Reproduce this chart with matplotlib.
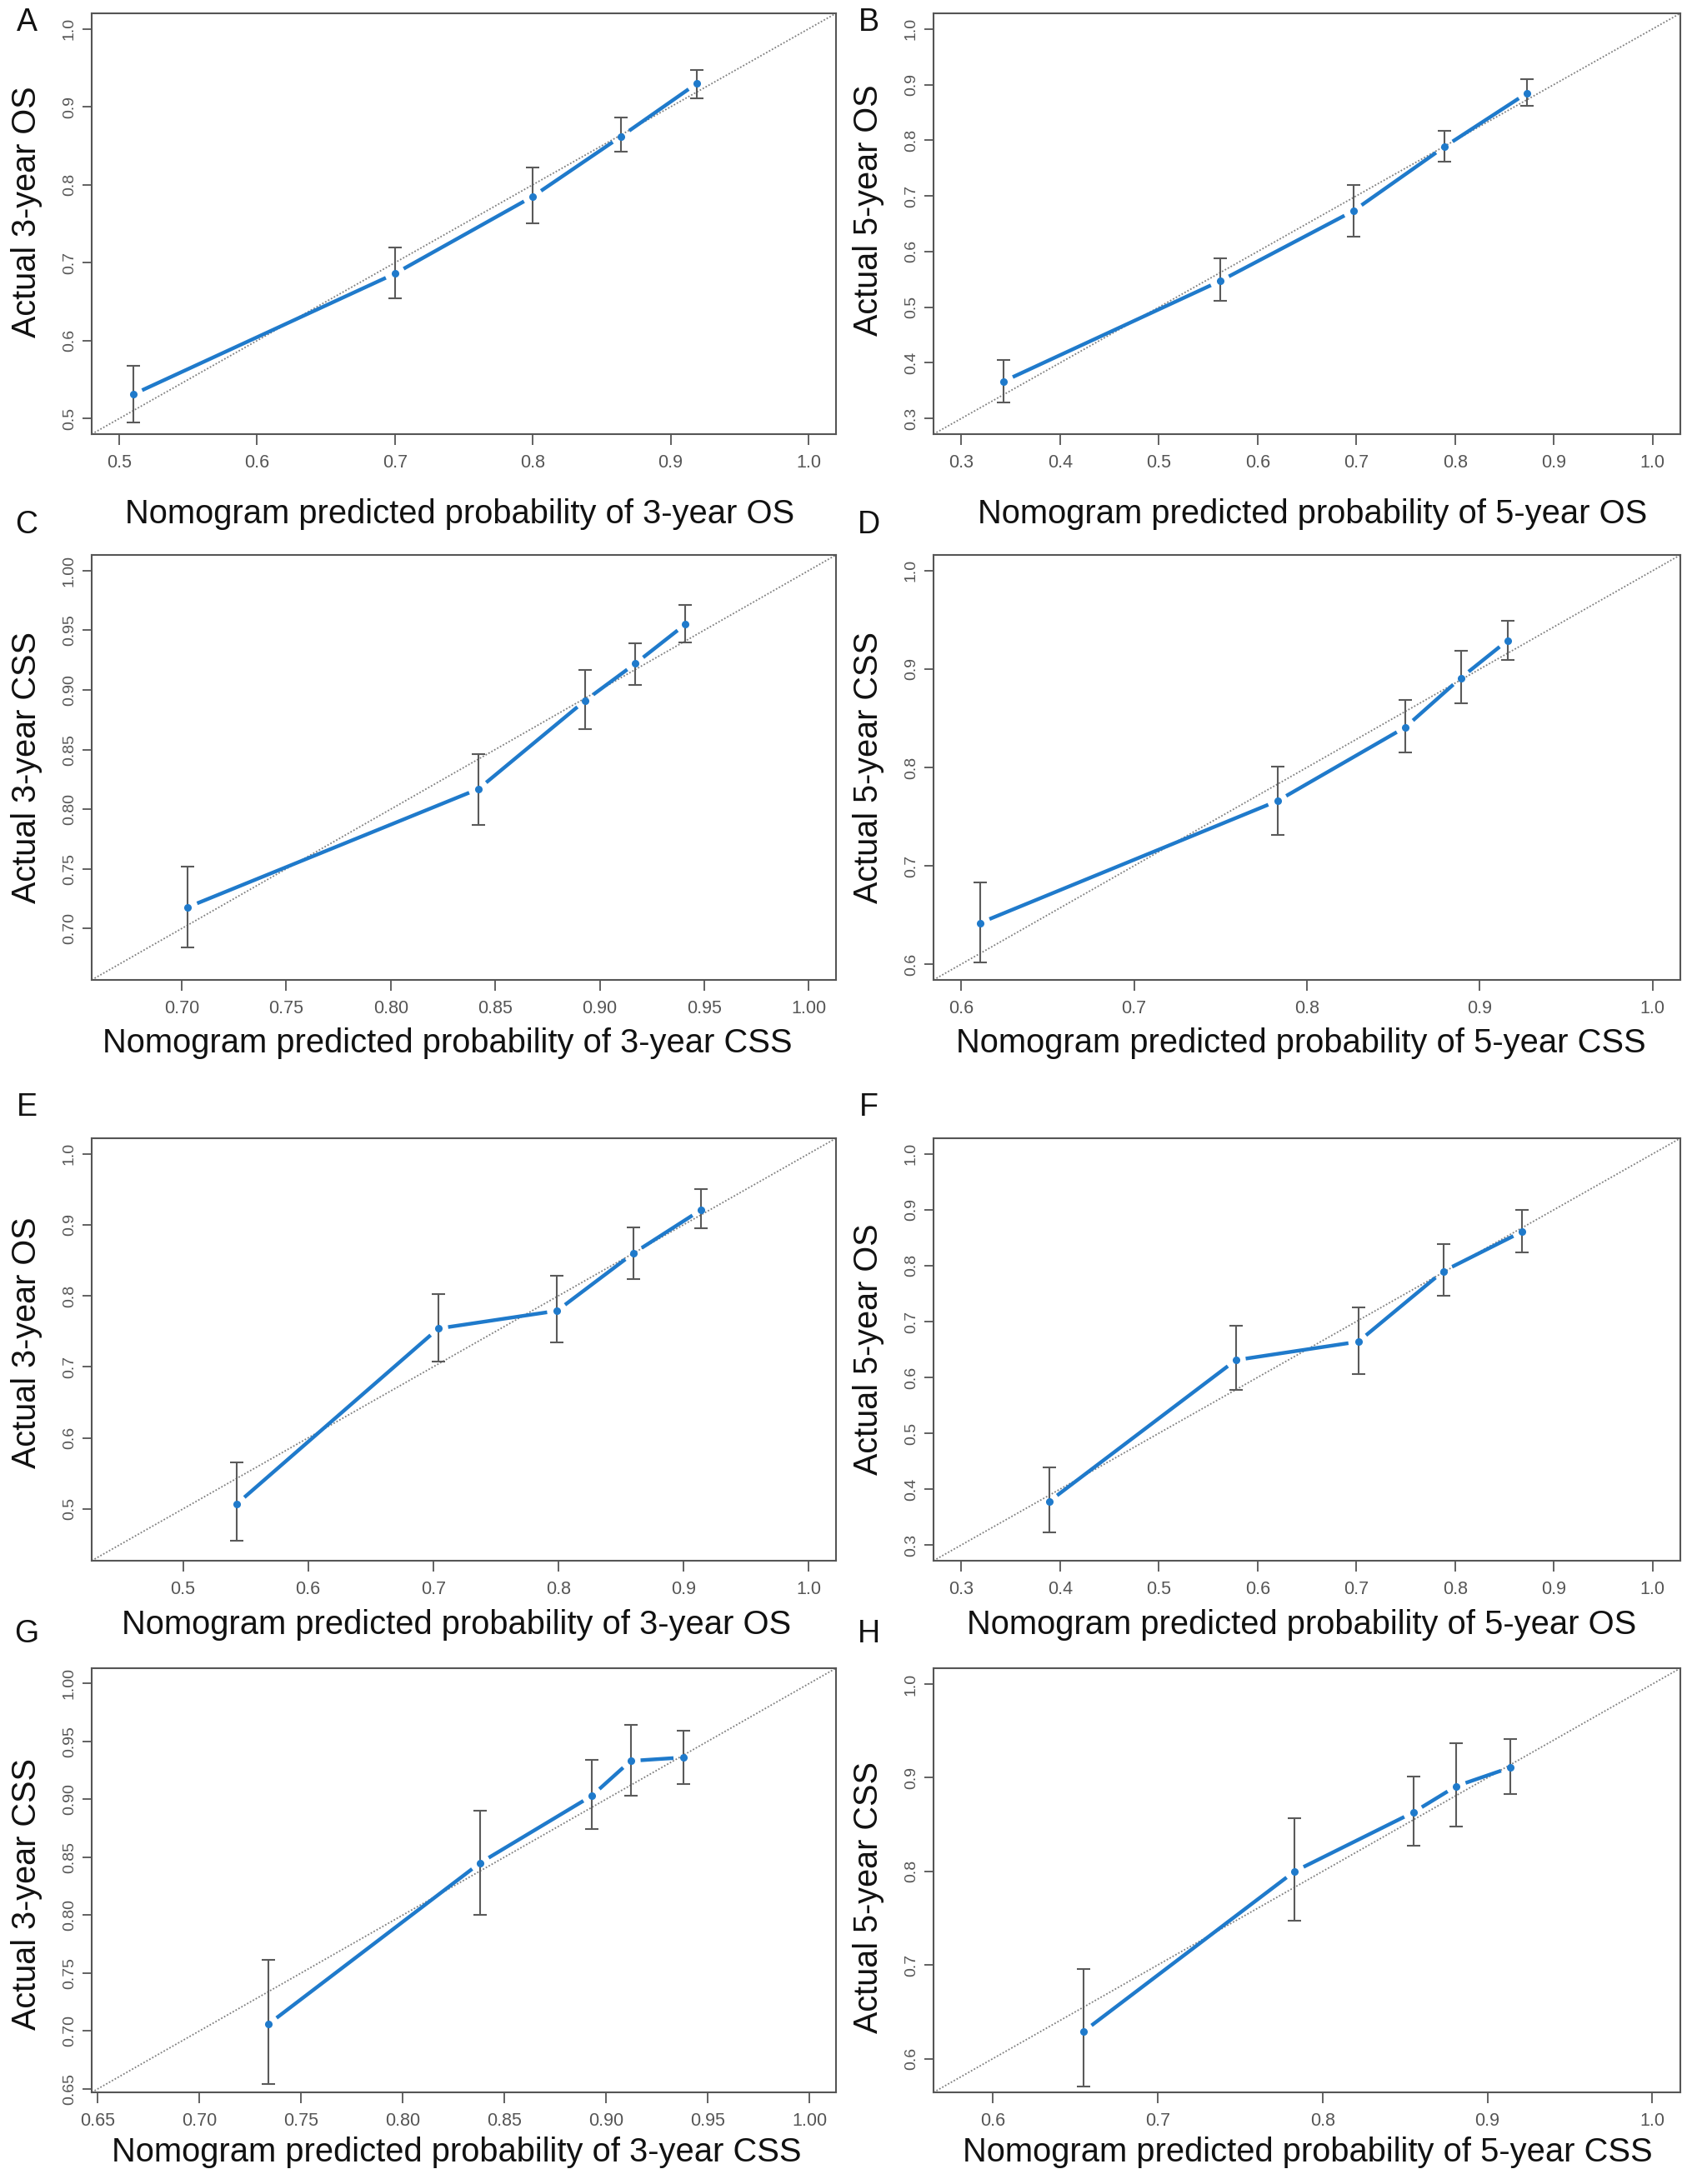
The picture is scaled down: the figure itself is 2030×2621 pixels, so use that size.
import numpy as np
import matplotlib; matplotlib.use("Agg")
import matplotlib.pyplot as plt

plt.rcParams["font.family"] = ["Liberation Sans", "DejaVu Sans"]
NARROW = ["Liberation Sans Narrow", "Liberation Sans", "DejaVu Sans"]

# ---------- data ----------
A_x  = [0.510, 0.700, 0.800, 0.864, 0.919]
A_y  = [0.531, 0.686, 0.785, 0.862, 0.930]
A_lo = [0.495, 0.654, 0.750, 0.842, 0.911]
A_hi = [0.568, 0.719, 0.822, 0.886, 0.947]

B_x  = [0.343, 0.562, 0.697, 0.789, 0.873]
B_y  = [0.367, 0.547, 0.673, 0.788, 0.885]
B_lo = [0.329, 0.511, 0.627, 0.761, 0.862]
B_hi = [0.405, 0.588, 0.719, 0.817, 0.910]

C_x  = [0.703, 0.842, 0.893, 0.917, 0.941]
C_y  = [0.718, 0.817, 0.891, 0.922, 0.955]
C_lo = [0.684, 0.787, 0.867, 0.904, 0.940]
C_hi = [0.752, 0.846, 0.917, 0.939, 0.971]

D_x  = [0.611, 0.783, 0.857, 0.889, 0.916]
D_y  = [0.642, 0.766, 0.841, 0.891, 0.929]
D_lo = [0.602, 0.731, 0.815, 0.865, 0.909]
D_hi = [0.683, 0.801, 0.869, 0.919, 0.949]

E_x  = [0.543, 0.704, 0.799, 0.860, 0.914]
E_y  = [0.507, 0.754, 0.779, 0.860, 0.921]
E_lo = [0.455, 0.708, 0.734, 0.824, 0.895]
E_hi = [0.566, 0.802, 0.828, 0.897, 0.950]

F_x  = [0.389, 0.578, 0.702, 0.788, 0.868]
F_y  = [0.378, 0.631, 0.664, 0.790, 0.861]
F_lo = [0.323, 0.578, 0.606, 0.746, 0.823]
F_hi = [0.439, 0.693, 0.725, 0.839, 0.900]

G_x  = [0.734, 0.838, 0.893, 0.912, 0.938]
G_y  = [0.706, 0.845, 0.903, 0.933, 0.936]
G_lo = [0.654, 0.800, 0.874, 0.903, 0.913]
G_hi = [0.761, 0.890, 0.934, 0.964, 0.959]

H_x  = [0.655, 0.783, 0.855, 0.881, 0.914]
H_y  = [0.629, 0.800, 0.863, 0.891, 0.911]
H_lo = [0.570, 0.747, 0.827, 0.848, 0.883]
H_hi = [0.696, 0.857, 0.901, 0.937, 0.941]

LIMS = {"A": (0.480, 1.020), "B": (0.272, 1.028), "C": (0.657, 1.013), "D": (0.584, 1.016),
        "E": (0.427, 1.022), "F": (0.272, 1.028), "G": (0.647, 1.013), "H": (0.564, 1.017)}
TICKS = {"A": (0.5, 1.0, 0.1, "%.1f"), "B": (0.3, 1.0, 0.1, "%.1f"), "C": (0.70, 1.00, 0.05, "%.2f"),
         "D": (0.6, 1.0, 0.1, "%.1f"), "E": (0.5, 1.0, 0.1, "%.1f"), "F": (0.3, 1.0, 0.1, "%.1f"),
         "G": (0.65, 1.00, 0.05, "%.2f"), "H": (0.6, 1.0, 0.1, "%.1f")}
OUTCOME = {"A": ("3", "OS"), "B": ("5", "OS"), "C": ("3", "CSS"), "D": ("5", "CSS"),
           "E": ("3", "OS"), "F": ("5", "OS"), "G": ("3", "CSS"), "H": ("5", "CSS")}
SERIES = {"A": (A_x, A_y, A_lo, A_hi), "B": (B_x, B_y, B_lo, B_hi),
          "C": (C_x, C_y, C_lo, C_hi), "D": (D_x, D_y, D_lo, D_hi),
          "E": (E_x, E_y, E_lo, E_hi), "F": (F_x, F_y, F_lo, F_hi),
          "G": (G_x, G_y, G_lo, G_hi), "H": (H_x, H_y, H_lo, H_hi)}

# ---------- layout (pixels in a 2031 x 2621 canvas) ----------
W, H = 2031, 2621
COLS = [(110, 893), (1120, 896)]                       # left, width
ROWS = [(16, 505), (666, 510), (1366, 507), (2002, 509)]  # top, height
XLAB_GAP = [96, 76, 77, 72]
PLABEL_Y = [27, 630, 1329, 1961]
# small nudges of the axis titles (px) so they sit where the original put them
XLAB_DX = {"A": -5, "B": 7, "C": -20, "D": -7, "E": -9, "F": -6, "G": -9, "H": 1}
YLAB_DY = {"A": -14, "B": -16, "C": 0, "D": 0, "E": -8, "F": 0, "G": 16, "H": 20}
BLUE = "#1f7acb"
GREY = "#555555"

fig = plt.figure(figsize=(W/100, H/100), dpi=100)
for i, key in enumerate("ABCDEFGH"):
    r, c = divmod(i, 2)
    left, wpx = COLS[c]
    top, hpx = ROWS[r]
    ax = fig.add_axes([left/W, 1-(top+hpx)/H, wpx/W, hpx/H])
    lo_lim, hi_lim = LIMS[key]
    ax.set_xlim(lo_lim, hi_lim); ax.set_ylim(lo_lim, hi_lim)
    t0, t1, st, fmt = TICKS[key]
    ticks = np.round(np.arange(t0, t1 + st/2, st), 2)
    ax.set_xticks(ticks); ax.set_yticks(ticks)
    ax.set_xticklabels([fmt % t for t in ticks], fontsize=15.5, color=GREY, family=NARROW)
    ax.set_yticklabels([fmt % t for t in ticks], fontsize=14, color=GREY, rotation=90, va="center")
    ax.tick_params(axis="x", length=9.4, width=1.3, color=GREY, pad=8)
    ax.tick_params(axis="y", length=8, width=1.3, color=GREY, pad=5)
    for s in ax.spines.values():
        s.set_color(GREY); s.set_linewidth(1.5)

    # ideal line
    ax.plot([lo_lim, hi_lim], [lo_lim, hi_lim], ls=(0, (1, 1.2)), color="#7f7f7f", lw=1.3, zorder=1)

    x, y, ylo, yhi = [np.asarray(v) for v in SERIES[key]]
    ax.errorbar(x, y, yerr=[y-ylo, yhi-y], fmt="none", ecolor="#5a5a5a", elinewidth=1.5,
                capsize=6, capthick=1.5, zorder=2)
    # R type="b": line segments broken around each point
    fig.canvas.draw()
    pts = ax.transData.transform(np.column_stack([x, y]))
    inv = ax.transData.inverted()
    gap = 12
    for p, q in zip(pts[:-1], pts[1:]):
        d = q - p; L = np.hypot(*d)
        a = inv.transform(p + d*gap/L); b = inv.transform(q - d*gap/L)
        ax.plot([a[0], b[0]], [a[1], b[1]], color=BLUE, lw=3.2, solid_capstyle="butt", zorder=3)
    ax.plot(x, y, "o", color=BLUE, ms=5.5, mec=BLUE, zorder=4)

    yr, oc = OUTCOME[key]
    ax.text(-78/wpx, 0.5 - YLAB_DY[key]/hpx, f"Actual {yr}-year {oc}", transform=ax.transAxes,
            rotation=90, ha="center", va="center", fontsize=28.5, color="#111111")
    ax.text(0.5 + XLAB_DX[key]/wpx, -XLAB_GAP[r]/hpx, f"Nomogram predicted probability of {yr}-year {oc}",
            transform=ax.transAxes, ha="center", va="center", fontsize=28.7, color="#111111")
    fig.text((left-78)/W, 1-PLABEL_Y[r]/H, key, ha="center", va="center", fontsize=27, color="#111111")

fig.savefig("out.png", dpi=100, facecolor="white")
